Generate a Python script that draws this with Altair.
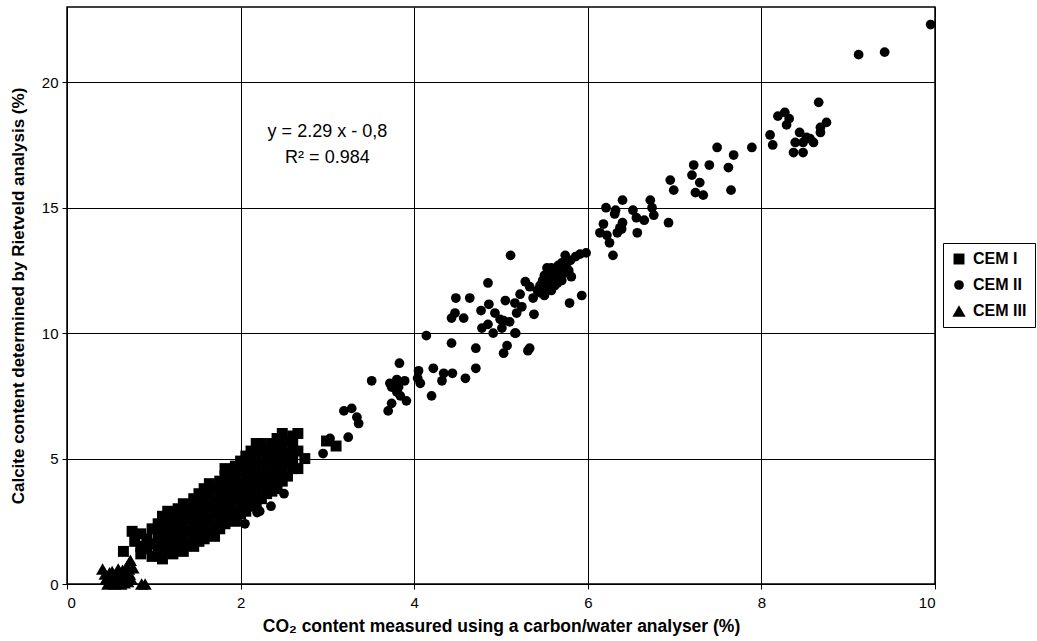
import altair as alt
import pandas as pd

FONT = "Liberation Sans"

# ---------------- data ----------------
cem1_x = [0.65,
          0.75, 0.78,
          0.85, 0.85, 0.85,
          0.92, 0.92,
          0.98, 0.98, 0.98,
          1.05, 1.05, 1.05,
          1.10, 1.10, 1.10, 1.10,
          1.16, 1.16, 1.16, 1.16,
          1.22, 1.22, 1.22, 1.22,
          1.28, 1.28, 1.28, 1.28,
          1.34, 1.34, 1.34, 1.34, 1.34,
          1.40, 1.40, 1.40, 1.40,
          1.46, 1.46, 1.46, 1.46, 1.46,
          1.52, 1.52, 1.52, 1.52, 1.52,
          1.58, 1.58, 1.58, 1.58, 1.58,
          1.64, 1.64, 1.64, 1.64, 1.64,
          1.70, 1.70, 1.70, 1.70, 1.70,
          1.76, 1.76, 1.76, 1.76, 1.76,
          1.82, 1.82, 1.82, 1.82, 1.82, 1.82,
          1.88, 1.88, 1.88, 1.88, 1.88,
          1.94, 1.94, 1.94, 1.94, 1.94, 1.94,
          2.00, 2.00, 2.00, 2.00, 2.00, 2.00,
          2.06, 2.06, 2.06, 2.06, 2.06, 2.06,
          2.12, 2.12, 2.12, 2.12, 2.12, 2.12,
          2.18, 2.18, 2.18, 2.18, 2.18, 2.18,
          2.24, 2.24, 2.24, 2.24, 2.24, 2.24,
          2.30, 2.30, 2.30, 2.30, 2.30,
          2.36, 2.36, 2.36, 2.36, 2.36,
          2.42, 2.42, 2.42, 2.42, 2.42,
          2.48, 2.48, 2.48, 2.48, 2.48,
          2.54, 2.54, 2.54, 2.54,
          2.60, 2.60, 2.60, 2.60,
          2.66, 2.66, 2.66,
          2.74, 2.99, 3.10]
cem1_y = [1.3,
          2.1, 1.7,
          2.0, 1.5, 1.2,
          1.8, 1.4,
          2.2, 1.6, 1.1,
          1.9, 2.4, 1.3,
          1.0, 1.6, 2.1, 2.7,
          1.4, 1.9, 2.4, 2.9,
          1.2, 1.7, 2.2, 2.6,
          1.5, 2.0, 2.4, 3.0,
          1.3, 1.8, 2.3, 2.8, 3.2,
          1.6, 2.1, 2.6, 3.0,
          1.5, 1.9, 2.4, 2.9, 3.4,
          1.7, 2.2, 2.7, 3.2, 3.6,
          1.8, 2.4, 2.9, 3.4, 3.8,
          2.0, 2.6, 3.1, 3.6, 4.0,
          1.9, 2.3, 2.8, 3.3, 3.8,
          2.2, 2.6, 3.0, 3.5, 4.1,
          2.4, 2.9, 3.3, 3.8, 4.3, 4.6,
          2.6, 3.1, 3.5, 4.0, 4.5,
          2.5, 2.9, 3.4, 3.8, 4.2, 4.7,
          2.8, 3.2, 3.6, 4.0, 4.5, 4.9,
          2.9, 3.4, 3.8, 4.3, 4.7, 5.1,
          3.1, 3.5, 4.0, 4.4, 4.9, 5.3,
          3.2, 3.7, 4.2, 4.6, 5.1, 5.6,
          3.4, 3.9, 4.3, 4.8, 5.3, 5.6,
          3.6, 4.1, 4.5, 5.0, 5.4,
          3.7, 4.2, 4.7, 5.2, 5.6,
          3.8, 4.4, 4.9, 5.3, 5.8,
          4.1, 4.6, 5.0, 5.5, 6.0,
          4.3, 4.8, 5.2, 5.7,
          4.6, 5.0, 5.5, 5.9,
          4.6, 5.3, 6.0,
          5.0, 5.7, 5.5]

cem2_x = [9.95, 9.42, 9.12, 8.66, 8.19, 8.27, 8.32, 8.29, 8.75, 8.68, 8.68, 8.10,
          8.13, 8.44, 8.52, 8.39, 8.48, 8.60, 8.37, 8.48, 8.56, 7.49, 7.89, 7.68,
          7.40, 7.62, 7.22, 7.20, 7.29, 7.24, 7.33, 7.65, 6.95, 6.99, 6.40, 6.72,
          6.74, 6.76, 6.52, 6.56, 6.65, 6.93, 6.40, 6.39, 6.57, 6.21, 6.32, 6.31,
          6.18, 6.37, 6.14, 6.34, 6.22, 6.25, 6.29, 5.98, 5.91, 5.86, 5.74, 5.11,
          5.80,
          5.45, 5.48, 5.50, 5.52, 5.55, 5.56, 5.58, 5.60, 5.62, 5.64, 5.66, 5.68,
          5.70, 5.72, 5.74, 5.76, 5.53, 5.46, 5.58, 5.42, 5.50, 5.65, 5.78, 5.70,
          5.81, 5.28, 5.33, 5.37, 5.05, 5.22, 5.16, 5.93, 5.79, 5.38, 5.03, 5.16,
          5.07, 5.33, 4.85, 4.48, 4.64, 4.86, 4.77, 4.47, 4.43, 4.57, 4.93, 4.99,
          4.85, 4.78, 4.91, 5.01, 5.10, 5.18, 5.24, 5.17, 4.14, 4.43, 4.71, 5.03,
          5.31, 3.83, 4.05, 4.22, 4.34, 4.44, 4.71, 4.59, 4.32, 4.04, 4.07, 4.20,
          3.51, 3.72, 3.80, 3.89, 3.74, 3.82, 3.80, 3.84, 3.91, 3.74, 3.70, 3.19,
          3.28, 3.34, 3.36, 3.24, 3.03, 2.95,
          2.22, 2.05, 1.36, 2.19, 2.35, 2.50, 1.90, 1.70]
cem2_y = [22.3, 21.2, 21.1, 19.2, 18.65, 18.8, 18.55, 18.3, 18.4, 18.2, 18.0, 17.9,
          17.5, 18.0, 17.8, 17.6, 17.6, 17.6, 17.2, 17.2, 17.75, 17.4, 17.4, 17.1,
          16.7, 16.6, 16.7, 16.3, 16.0, 15.6, 15.5, 15.7, 16.1, 15.7, 15.3, 15.3,
          15.0, 14.7, 14.9, 14.6, 14.5, 14.4, 14.4, 14.15, 14.0, 15.0, 14.9, 14.75,
          14.35, 14.2, 14.0, 14.0, 13.9, 13.6, 13.1, 13.2, 13.15, 13.05, 13.1, 13.1,
          12.9,
          11.9, 12.1, 12.3, 11.8, 12.0, 12.4, 12.6, 12.2, 11.9, 12.5, 12.7, 12.3,
          12.1, 12.6, 12.4, 12.8, 12.6, 11.6, 11.7, 11.7, 11.5, 12.0, 12.5, 12.8,
          12.25, 12.05, 11.85, 11.4, 11.3, 11.55, 11.2, 11.5, 11.2, 10.75, 10.5, 10.0,
          9.5, 9.4, 12.0, 11.4, 11.4, 11.15, 10.9, 10.8, 10.6, 10.6, 10.8, 10.55,
          10.35, 10.2, 10.0, 10.2, 10.45, 10.8, 11.05, 10.0, 9.9, 9.6, 9.4, 9.2,
          9.3, 8.8, 8.5, 8.6, 8.4, 8.4, 8.6, 8.2, 8.1, 8.2, 8.0, 7.5,
          8.1, 8.0, 8.15, 8.1, 7.85, 7.85, 7.65, 7.5, 7.3, 7.2, 6.9, 6.9,
          7.0, 6.65, 6.4, 5.85, 5.8, 5.2,
          2.9, 2.4, 2.9, 2.85, 3.1, 3.6, 2.9, 3.0]

cem3_x = [0.41, 0.49, 0.59, 0.69, 0.73, 0.76, 0.86, 0.90, 0.45, 0.50, 0.55, 0.60,
          0.65, 0.70, 0.55, 0.62, 0.68, 0.48, 0.52, 0.64, 0.72, 0.58, 0.66,
          0.44, 0.53, 0.61, 0.67, 0.74, 0.47, 0.57, 0.63, 0.71]
cem3_y = [0.6, 0.45, 0.6, 0.7, 0.95, 0.65, 0.0, 0.0, 0.2, 0.1, 0.3, 0.15,
          0.35, 0.1, 0.0, 0.0, 0.2, 0.3, 0.5, 0.55, 0.4, 0.05, 0.05,
          0.4, 0.25, 0.45, 0.45, 0.2, 0.0, 0.4, 0.25, 0.6]

series_names = ["CEM I", "CEM II", "CEM III"]
series_shapes = ["square", "circle", "triangle-up"]
series_sizes = [120, 95, 175]

x_ticks = [0, 2, 4, 6, 8, 10]
y_ticks = [0, 5, 10, 15, 20]

ann_x = [3.0, 3.0]
ann_y = [18.0, 17.0]
ann_text = ["y = 2.29 x - 0,8", "R² = 0.984"]

# ---------------- tables ----------------
rows = []
for name, xs, ys in zip(series_names, [cem1_x, cem2_x, cem3_x], [cem1_y, cem2_y, cem3_y]):
    for a, b in zip(xs, ys):
        rows.append({"x": a, "y": b, "cement": name})
df = pd.DataFrame(rows)
ann = pd.DataFrame({"x": ann_x, "y": ann_y, "t": ann_text})

xscale = alt.Scale(domain=[0, 10], nice=False, zero=False)
yscale = alt.Scale(domain=[0, 23], nice=False, zero=False)

points = alt.Chart(df).mark_point(filled=True, color="black", opacity=1, strokeWidth=0).encode(
    x=alt.X("x:Q", scale=xscale,
            axis=alt.Axis(values=x_ticks, format="d",
                          title="CO₂ content measured using a carbon/water analyser (%)",
                          labelPadding=6, titlePadding=7, titleFontSize=17.5)),
    y=alt.Y("y:Q", scale=yscale,
            axis=alt.Axis(values=y_ticks, format="d",
                          title="Calcite content determined by Rietveld analysis (%)",
                          labelPadding=4, titlePadding=14, titleFontSize=17)),
    shape=alt.Shape("cement:N", scale=alt.Scale(domain=series_names, range=series_shapes),
                    legend=alt.Legend(title=None)),
    size=alt.Size("cement:N", scale=alt.Scale(type="ordinal", domain=series_names, range=series_sizes),
                  legend=alt.Legend(title=None)),
)

labels = alt.Chart(ann).mark_text(font=FONT, fontSize=18, color="black", baseline="middle",
                                  align="center").encode(
    x=alt.X("x:Q", scale=xscale),
    y=alt.Y("y:Q", scale=yscale),
    text="t:N",
)

chart = alt.layer(points, labels).properties(
    width=868, height=577,
    autosize=alt.AutoSizeParams(type="none"),
    padding={"left": 67, "top": 7, "right": 102, "bottom": 57},
    background="white",
).configure_view(
    stroke="black", strokeWidth=1.5,
).configure_axis(
    grid=True, gridColor="black", gridWidth=1, gridOpacity=1,
    domain=True, domainColor="black", domainWidth=1,
    tickColor="black", tickSize=5, ticks=True,
    labelFont=FONT, labelFontSize=15, labelColor="black",
    titleFont=FONT, titleFontWeight="bold", titleColor="black",
).configure_legend(
    orient="none", legendX=876, legendY=236,
    strokeColor="black", fillColor="white", padding=8,
    labelFont=FONT, labelFontSize=16, labelFontWeight="bold", labelColor="black",
    rowPadding=10, symbolFillColor="black", symbolStrokeWidth=0, labelOffset=6,
)

chart.save("out.html", embed_options={"renderer": "svg", "actions": False})
